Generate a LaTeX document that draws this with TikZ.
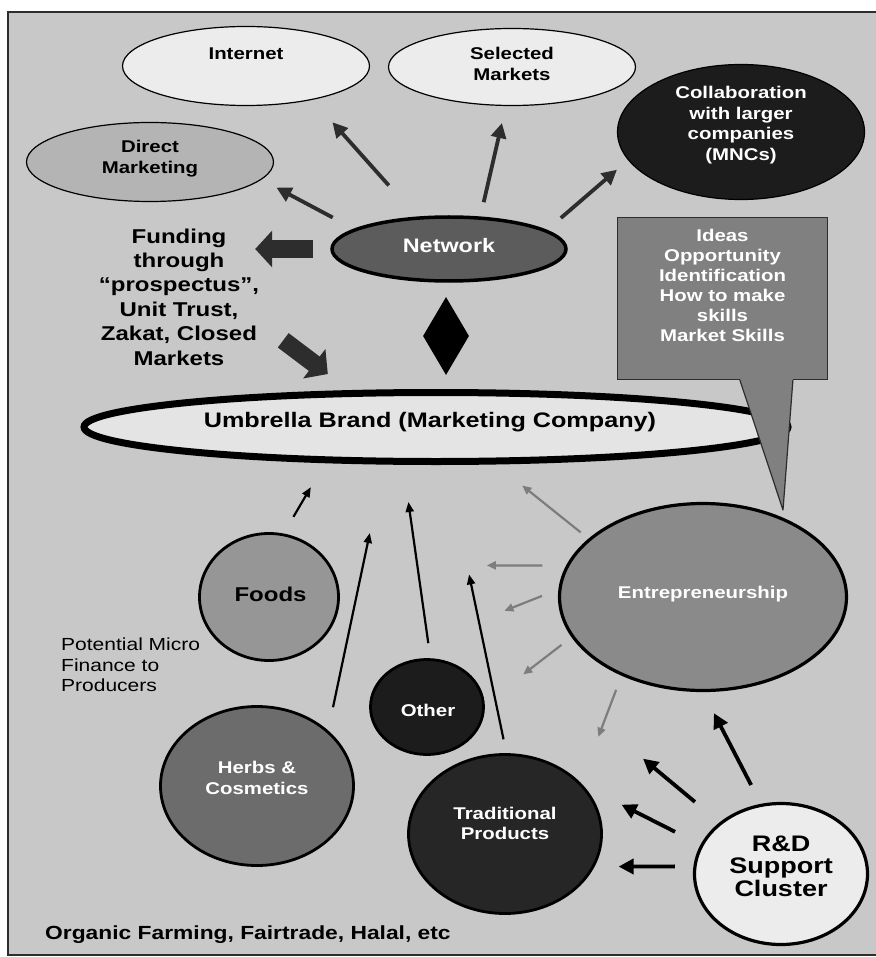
\documentclass[tikz,border=0pt]{standalone}
\usepackage{fontspec}
\setsansfont{Liberation Sans}[FakeStretch=1.2]
\usepackage{tikz}
\usetikzlibrary{positioning}
\usetikzlibrary{arrows.meta}
\usetikzlibrary{shapes.geometric}
\usetikzlibrary{calc}

\definecolor{bggray}{RGB}{200,200,200}
\definecolor{palefill}{RGB}{236,236,236}
\definecolor{dmfill}{RGB}{180,180,180}
\definecolor{nearblack}{RGB}{28,28,28}
\definecolor{netfill}{RGB}{92,92,92}
\definecolor{umbfill}{RGB}{228,228,228}
\definecolor{boxfill}{RGB}{128,128,128}
\definecolor{foodfill}{RGB}{150,150,150}
\definecolor{herbfill}{RGB}{108,108,108}
\definecolor{entfill}{RGB}{138,138,138}
\definecolor{darkfill}{RGB}{38,38,38}
\definecolor{arrowdark}{RGB}{45,45,45}
\definecolor{arrowgray}{RGB}{125,125,125}

\tikzset{
    blob/.style={ellipse, draw, inner sep=0pt}, % 椭圆/圆形结点
    lab/.style 2 args={font=\sffamily\bfseries\fontsize{#1}{#2}\selectfont, align=center}, % 粗体标签
    netarrow/.style={draw=arrowdark, line width=3.8pt, -{Triangle[length=15pt,width=15pt]}},
    uparrow/.style={draw=black, line width=2.2pt, -{Triangle[length=10pt,width=8pt]}},
    grayarrow/.style={draw=arrowgray, line width=2.2pt, -{Triangle[length=9pt,width=8pt]}},
    rdarrow/.style={draw=black, line width=3.8pt, -{Triangle[length=15pt,width=15pt]}},
    blockarrow/.style={draw=arrowdark, line width=18pt, -{Triangle[length=17pt,width=36pt]}}
}

\begin{document}
\begin{tikzpicture}[x=1pt, y=-1pt]
          % --- 1. 边框与底色 ---
          \useasboundingbox (0,0) rectangle (875,957);
          \fill[white] (0,0) rectangle (875,957);
          \draw[draw=arrowdark, line width=1.5pt, fill=bggray] (8,12) rectangle (890,955);

          % --- 2. 上方的椭圆 ---
          \node[blob, fill=palefill, line width=1.2pt, minimum width=247pt, minimum height=79pt,
                label={[lab={17}{21}, yshift=12pt]center:Internet}] (int) at (246,66) {};
          \node[blob, fill=palefill, line width=1.2pt, minimum width=247pt, minimum height=77pt,
                label={[lab={17}{21.5}, yshift=3pt]center:Selected\\Markets}] (sel) at (512,67) {};
          \node[blob, fill=dmfill, line width=1.2pt, minimum width=247pt, minimum height=79pt,
                label={[lab={17}{21}, yshift=3.5pt]center:Direct\\Marketing}] (dm) at (150,162) {};
          \node[blob, fill=nearblack, line width=1.2pt, minimum width=247pt, minimum height=135pt,
                label={[lab={17}{20.7}, white, yshift=7pt]center:Collaboration\\with larger\\companies\\(MNCs)}] (mnc) at (741,132) {};
          \node[blob, fill=netfill, line width=3.5pt, minimum width=234pt, minimum height=64pt,
                label={[lab={19.5}{23}, white, yshift=3pt]center:Network}] (net) at (449,249) {};

          \node[lab={20}{24.4}, text width=172pt, inner sep=0pt] (fund) at (179,297)
               {Funding\\through\\“prospectus”,\\Unit Trust,\\Zakat, Closed\\Markets};

          \node[diamond, fill=black, minimum width=46pt, minimum height=78pt, inner sep=0pt] (link) at (446,336) {};

          % --- 3. 伞形品牌 ---
          \node[blob, fill=umbfill, line width=7pt, minimum width=704pt, minimum height=69pt,
                label={[lab={21}{25}, xshift=-6pt, yshift=5pt]center:Umbrella Brand (Marketing Company)}] (umb) at (436,427) {};

          % --- 4. 下方的圆 ---
          \node[blob, fill=foodfill, line width=2.8pt, minimum width=139pt, minimum height=127pt,
                label={[lab={20}{24}, xshift=1.5pt, yshift=3pt]center:Foods}] (foods) at (269,597) {};
          \node[blob, fill=nearblack, line width=2.8pt, minimum width=113pt, minimum height=95pt,
                label={[lab={17}{21}, white, xshift=1pt, yshift=-3pt]center:Other}] (other) at (427,707) {};
          \node[blob, fill=herbfill, line width=2.8pt, minimum width=193pt, minimum height=159pt,
                label={[lab={17}{21}, white, yshift=8.5pt]center:Herbs \&\\Cosmetics}] (herbs) at (257,786) {};
          \node[blob, fill=darkfill, line width=2.8pt, minimum width=193pt, minimum height=159pt,
                label={[lab={17}{20.5}, white, yshift=10.5pt]center:Traditional\\Products}] (trad) at (505,834) {};
          \node[blob, fill=entfill, line width=3.2pt, minimum width=287pt, minimum height=187pt,
                label={[lab={17}{21}, white, yshift=3pt]center:Entrepreneurship}] (ent) at (703,597) {};
          \node[blob, fill=palefill, line width=3.2pt, minimum width=173pt, minimum height=141pt,
                label={[lab={22.5}{22.5}, yshift=8pt]center:R\&D\\Support\\Cluster}] (rd) at (781,874) {};

          \node[font=\sffamily\fontsize{17.5}{20.5}\selectfont, align=left, anchor=west, inner sep=0pt] (micro) at (61,665)
               {Potential Micro\\Finance to\\Producers};
          \node[lab={19}{22}, anchor=west, inner sep=0pt] (organic) at (45,935) {Organic Farming, Fairtrade, Halal, etc};

          % --- 5. 箭头: 起点/终点/缩短量 ---
          \foreach \a/\b/\sa/\sb in {net.168/dm.-9/24/17, net.135/int.-27/41.7/30,
                                     net.46/sel.-99/14.6/17.4, net.11/mnc.-166/18.3/14.6} {
              \draw[netarrow, shorten <=\sa pt, shorten >=\sb pt] (\a) -- (\b);
          }
          \foreach \a/\b/\sa/\sb in {foods.77/umb.-162/19.3/27.8, herbs.38/umb.-144/23.7/69.9,
                                     other.86/umb.-131/15.2/37.5, trad.89/umb.-75/14.1/111.8} {
              \draw[uparrow, shorten <=\sa pt, shorten >=\sb pt] (\a) -- (\b);
          }
          \foreach \a/\b/\sa/\sb in {ent.153/umb.-32/10/33.8, ent.167/foods.27/23.8/155.9,
                                     ent.177/herbs.84/17.6/257, ent.-163/other.3/12.6/48.5,
                                     ent.-136/trad.34/15.1/49.3} {
              \draw[grayarrow, shorten <=\sa pt, shorten >=\sb pt] (\a) -- (\b);
          }
          \foreach \a/\b/\sa/\sb in {rd.106/ent.-90/21.2/23.7, rd.140/umb.-167/32/464,
                                     rd.160/trad.32/28.6/43.1, rd.175/trad.-20/18.5/24} {
              \draw[rdarrow, shorten <=\sa pt, shorten >=\sb pt] (\a) -- (\b);
          }

          % 粗箭头
          \draw[blockarrow, shorten <=17pt, shorten >=-10pt] (net.west) -- (fund.east |- net.west);
          \draw[blockarrow, shorten <=22.6pt, shorten >=26.8pt] (fund.-19) -- (umb.157);

          % --- 6. 对话框 ---
          \node[draw=arrowdark, line width=1.2pt, fill=boxfill, minimum width=210pt, minimum height=162pt, inner sep=0pt,
                label={[lab={17}{20}, white, yshift=13.5pt]center:Ideas\\Opportunity\\Identification\\How to make\\skills\\Market Skills}]
                (idea) at (722.5,298.5) {};
          \coordinate (ptip) at (783,510);
          \fill[boxfill] ($(idea.south west)+(123,-1.5)$) -- (ptip) -- ($(idea.south west)+(176,-1.5)$) -- cycle;
          \draw[arrowdark, line width=1.2pt, line join=round] ($(idea.south west)+(123,0)$) -- (ptip) -- ($(idea.south west)+(176,0)$);

\end{tikzpicture}
\end{document}
